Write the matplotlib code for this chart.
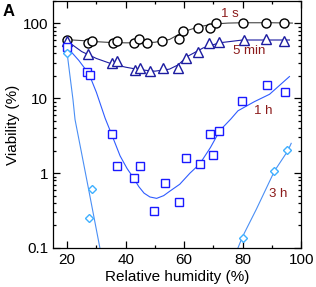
import matplotlib
matplotlib.use("Agg")
import matplotlib.pyplot as plt
from matplotlib.ticker import FixedLocator, FuncFormatter, LogLocator, NullFormatter, MultipleLocator

plt.rcParams["font.family"] = ["Liberation Sans", "DejaVu Sans"]

# measured points
rh_1s = [20, 27.3, 28.4, 35.8, 37, 42.8, 44.5, 47.2, 52.6, 58.3, 59.7, 64.8, 68.8, 70.8, 80.1, 88.1, 94]
via_1s = [60, 55, 59, 54, 59, 54, 61, 54, 58, 62, 79, 88, 88, 100, 102, 102, 102]

rh_5m = [20, 27, 35.4, 37.1, 43.2, 44.9, 48.5, 52.8, 57.9, 60.8, 64.8, 68.5, 71.8, 80.3, 88.1, 94.3]
via_5m = [58, 38.6, 30, 31, 24, 25.7, 23.1, 25, 25.7, 35, 42, 55, 56.5, 60, 62, 58]

rh_1h = [20, 26.9, 27.8, 35.2, 37.1, 42.8, 44.9, 49.7, 53.6, 58.3, 60.8, 65.3, 69.7, 68.8, 71.8, 79.9, 88.3, 94.6]
via_1h = [48, 22.4, 20.3, 3.3, 1.23, 0.85, 1.25, 0.31, 0.73, 0.41, 1.57, 1.32, 1.74, 3.3, 3.6, 9.2, 14.9, 12.3]

rh_3h = [20, 28.4, 27.5, 80.1, 90.7, 95.2]
via_3h = [39.8, 0.62, 0.25, 0.136, 1.07, 2.03]

# fitted curves
fit_rh_1s = [18.7, 25, 30, 35, 40, 45, 50, 55, 60, 65, 70, 75, 80, 90, 97]
fit_via_1s = [61, 59, 57, 55.5, 55, 55, 56, 61, 78, 90, 98, 101, 102, 102, 101]

fit_rh_5m = [20, 22, 25, 30, 35, 40, 45, 50, 55, 58, 61, 66.5, 72, 80, 96]
fit_via_5m = [58, 51, 42, 34, 29, 26, 24, 23, 24.5, 28, 36, 47, 55, 60, 60]

fit_rh_1h = [20, 24, 27.5, 30, 33, 35.2, 38.1, 40.5, 42.8, 44.5, 46.3, 48.3, 50.6, 53, 55,
             58.5, 62, 65.3, 69, 72.2, 76, 78.4, 84, 89.2, 96]
fit_via_1h = [48, 32, 21, 12, 5.4, 3.3, 1.7, 1.15, 0.85, 0.66, 0.54, 0.48, 0.46, 0.5, 0.57,
              0.71, 1.0, 1.32, 2.2, 3.7, 5.3, 6.8, 9, 11.3, 19.5]

fit_rh_3h_lo = [20, 21, 22, 22.7, 25, 27.3, 31.2, 33]
fit_via_3h_lo = [40, 19.5, 9.6, 5.2, 1.8, 0.62, 0.1, 0.045]
fit_rh_3h_hi = [77.5, 78.4, 79.9, 84.7, 90.9, 95.5, 96.6]
fit_via_3h_hi = [0.08, 0.1, 0.14, 0.33, 1.07, 2.0, 2.5]

labels = ["1 s", "5 min", "1 h", "3 h"]
label_pos = [(75.6, 132), (82.2, 42.7), (86.9, 6.8), (92, 0.53)]

c_1s = "black"
c_5m = "#1c1ca0"
c_1h = "#1a1aff"
c_1h_line = "#2f5cff"
c_3h = "#3fb0ff"
c_3h_line = "#4a8ff5"
c_text = "#8b1a1a"

fig = plt.figure(figsize=(3.16, 2.87), dpi=100)
ax = fig.add_axes([0.168, 0.136, 0.785, 0.861])

lw = 0.8
ax.plot(fit_rh_1s, fit_via_1s, color="#444444", lw=lw, zorder=1)
ax.plot(fit_rh_5m, fit_via_5m, color=c_5m, lw=lw, zorder=1)
ax.plot(fit_rh_1h, fit_via_1h, color=c_1h_line, lw=lw, zorder=1)
ax.plot(fit_rh_3h_lo, fit_via_3h_lo, color=c_3h_line, lw=lw, zorder=1)
ax.plot(fit_rh_3h_hi, fit_via_3h_hi, color=c_3h_line, lw=lw, zorder=1)

ax.plot(rh_1s, via_1s, ls="none", marker="o", ms=6.5, mfc="white", mec=c_1s, mew=1.0, zorder=3)
ax.plot(rh_5m, via_5m, ls="none", marker="^", ms=6.5, mfc="white", mec=c_5m, mew=1.0, zorder=3)
ax.plot(rh_1h, via_1h, ls="none", marker="s", ms=5.5, mfc="white", mec=c_1h, mew=1.0, zorder=3)
ax.plot(rh_3h, via_3h, ls="none", marker="D", ms=4.5, mfc="white", mec=c_3h, mew=1.0, zorder=3)

for txt, (x, y) in zip(labels, label_pos):
    ax.text(x, y, txt, color=c_text, fontsize=9.5, ha="center", va="center")

ax.set_yscale("log")
ax.set_xlim(15.2, 100)
ax.set_ylim(0.1, 200)

ax.xaxis.set_major_locator(FixedLocator([20, 40, 60, 80, 100]))
ax.xaxis.set_minor_locator(MultipleLocator(10))
ax.yaxis.set_major_locator(FixedLocator([0.1, 1, 10, 100]))
ax.yaxis.set_major_formatter(FuncFormatter(lambda v, p: f"{v:g}"))
ax.yaxis.set_minor_locator(LogLocator(base=10, subs=range(2, 10)))
ax.yaxis.set_minor_formatter(NullFormatter())

ax.tick_params(which="both", direction="in", top=True, right=True, labelsize=11, width=0.9)
ax.tick_params(which="major", length=5)
ax.tick_params(which="minor", length=2.5)
for s in ax.spines.values():
    s.set_linewidth(0.9)

ax.set_xlabel("Relative humidity (%)", fontsize=11, labelpad=2.5)
ax.set_ylabel("Viability (%)", fontsize=11, labelpad=2)

fig.text(0.008, 0.96, "A", fontsize=12, fontweight="bold", va="center", ha="left")

fig.savefig("out.png", dpi=100)
